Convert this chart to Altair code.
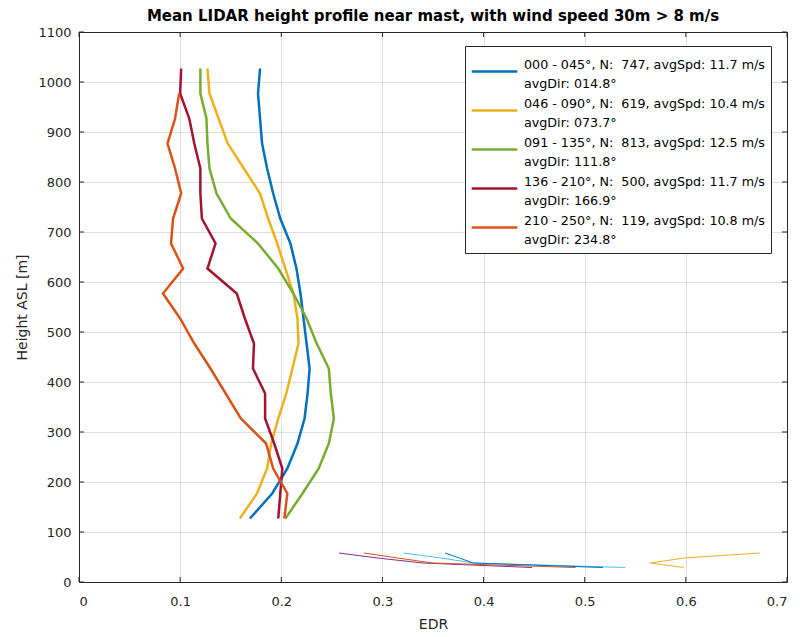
import altair as alt
import pandas as pd

# ---------------- data ----------------
heights = [127, 177, 227, 277, 327, 377, 427, 477, 527, 577, 627, 677, 727, 777, 827, 877, 927, 977, 1027]

labels = [
    "000 - 045°, N:\u00a0 747, avgSpd: 11.7 m/s|\u00a0avgDir: 014.8°",
    "046 - 090°, N:\u00a0 619, avgSpd: 10.4 m/s|\u00a0avgDir: 073.7°",
    "091 - 135°, N:\u00a0 813, avgSpd: 12.5 m/s|\u00a0avgDir: 111.8°",
    "136 - 210°, N:\u00a0 500, avgSpd: 11.7 m/s|\u00a0avgDir: 166.9°",
    "210 - 250°, N:\u00a0 119, avgSpd: 10.8 m/s|\u00a0avgDir: 234.8°",
]
colors = ["#0072BD", "#EDB120", "#77AC30", "#A2142F", "#D95319"]

edr_000_045 = [0.169, 0.191, 0.206, 0.216, 0.223, 0.226, 0.228, 0.225, 0.222, 0.219, 0.215, 0.209, 0.199, 0.192, 0.186, 0.181, 0.179, 0.177, 0.179]
edr_046_090 = [0.159, 0.176, 0.186, 0.190, 0.197, 0.205, 0.211, 0.217, 0.216, 0.212, 0.204, 0.196, 0.187, 0.179, 0.163, 0.147, 0.138, 0.129, 0.127]
edr_091_135 = [0.204, 0.221, 0.237, 0.247, 0.252, 0.249, 0.247, 0.235, 0.225, 0.212, 0.197, 0.177, 0.150, 0.136, 0.129, 0.127, 0.126, 0.120, 0.120]
edr_136_210 = [0.197, 0.199, 0.201, 0.193, 0.184, 0.184, 0.172, 0.173, 0.164, 0.156, 0.127, 0.135, 0.1215, 0.120, 0.120, 0.114, 0.109, 0.100, 0.101]
edr_210_250 = [0.203, 0.206, 0.192, 0.185, 0.160, 0.145, 0.130, 0.114, 0.100, 0.083, 0.103, 0.091, 0.093, 0.101, 0.095, 0.0875, 0.095, 0.099, None]
series = [edr_000_045, edr_046_090, edr_091_135, edr_136_210, edr_210_250]

# mast measurements (thin lines)
mast_heights = [29, 38, 48, 58]
mast_names = ["m1", "m2", "m3", "m4", "m5"]
mast_colors = ["#7E2F8E", "#D95319", "#4DBEEE", "#0072BD", "#EDB120"]
mast_purple = [0.448, 0.340, 0.295, 0.257]
mast_orange = [0.491, 0.350, 0.315, 0.2815]
mast_lightblue = [0.540, 0.390, 0.358, 0.321]
mast_blue = [0.518, 0.390, 0.376, 0.362]
mast_yellow = [0.598, 0.565, 0.598, 0.673]
mast_series = [mast_purple, mast_orange, mast_lightblue, mast_blue, mast_yellow]

x_ticks = [0, 0.1, 0.2, 0.3, 0.4, 0.5, 0.6, 0.7]
y_ticks = [0, 100, 200, 300, 400, 500, 600, 700, 800, 900, 1000, 1100]

# ---------------- tables ----------------
rows = []
for lab, vals in zip(labels, series):
    for h, v in zip(heights, vals):
        if v is not None:
            rows.append({"series": lab, "h": h, "edr": v})
df = pd.DataFrame(rows)

mrows = []
for name, vals in zip(mast_names, mast_series):
    for h, v in zip(mast_heights, vals):
        mrows.append({"mast": name, "h": h, "edr": v})
mdf = pd.DataFrame(mrows)

xt = pd.DataFrame({"edr": x_ticks})
yt = pd.DataFrame({"h": y_ticks})

W, H = 708, 550
FONT = "DejaVu Sans"
AX = "#262626"

x_scale = alt.Scale(domain=[0, 0.7], nice=False, zero=False)
y_scale = alt.Scale(domain=[0, 1100], nice=False, zero=False)

x_axis = alt.Axis(values=x_ticks, format="~g", title="EDR", grid=True, ticks=False,
                  domain=False, labelPadding=13, titlePadding=9)
y_axis = alt.Axis(values=y_ticks, format="d", title="Height ASL [m]", grid=True, ticks=False,
                  domain=False, labelPadding=8, titlePadding=8)

thin = alt.Chart(mdf).mark_line(strokeWidth=1).encode(
    x=alt.X("edr:Q", scale=x_scale, axis=x_axis),
    y=alt.Y("h:Q", scale=y_scale, axis=y_axis),
    color=alt.Color("mast:N", scale=alt.Scale(domain=mast_names, range=mast_colors), legend=None),
    order=alt.Order("h:Q"),
)

thick = alt.Chart(df).mark_line(strokeWidth=2.5).encode(
    x=alt.X("edr:Q", scale=x_scale, axis=x_axis),
    y=alt.Y("h:Q", scale=y_scale, axis=y_axis),
    color=alt.Color(
        "series:N",
        scale=alt.Scale(domain=labels, range=colors),
        sort=labels,
        legend=alt.Legend(
            title=None, orient="none", legendX=386, legendY=14,
            symbolType="M-1.267,0H1.267", symbolSize=1296, symbolStrokeWidth=2.5,
            symbolOffset=4,
            labelExpr="split(datum.label, '|')", labelBaseline="bottom",
            labelFont=FONT, labelFontSize=12.7, labelColor="black", labelLimit=400,
            labelOffset=10, strokeColor=AX, fillColor="white", padding=6,
            rowPadding=-1.3,
        ),
    ),
    order=alt.Order("h:Q"),
)

tick_b = alt.Chart(xt).mark_rule(color=AX, strokeWidth=1).encode(
    x=alt.X("edr:Q", scale=x_scale), y=alt.value(H), y2=alt.value(H - 5))
tick_t = alt.Chart(xt).mark_rule(color=AX, strokeWidth=1).encode(
    x=alt.X("edr:Q", scale=x_scale), y=alt.value(0), y2=alt.value(5))
tick_l = alt.Chart(yt).mark_rule(color=AX, strokeWidth=1).encode(
    y=alt.Y("h:Q", scale=y_scale), x=alt.value(0), x2=alt.value(5))
tick_r = alt.Chart(yt).mark_rule(color=AX, strokeWidth=1).encode(
    y=alt.Y("h:Q", scale=y_scale), x=alt.value(W), x2=alt.value(W - 5))

chart = alt.layer(thin, thick, tick_b, tick_t, tick_l, tick_r).resolve_scale(
    color="independent"
).properties(
    width=W, height=H,
    autosize=alt.AutoSizeParams(type="none"),
    padding={"left": 79, "top": 32, "right": 13, "bottom": 55},
    title=alt.TitleParams(
        "Mean LIDAR height profile near mast, with wind speed 30m > 8 m/s",
        font=FONT, fontSize=15, fontWeight="bold", color="black",
        anchor="middle", offset=2,
    ),
).configure(
    style={"guide-label": {"lineHeight": 19.2}}
).configure_view(
    stroke=AX, strokeWidth=1
).configure_axis(
    labelFont=FONT, labelFontSize=13, labelColor=AX,
    titleFont=FONT, titleFontSize=14, titleColor=AX, titleFontWeight="normal",
    gridColor=AX, gridOpacity=0.15, gridWidth=1,
)

chart.save("out.html", embed_options={"renderer": "svg", "actions": False})
